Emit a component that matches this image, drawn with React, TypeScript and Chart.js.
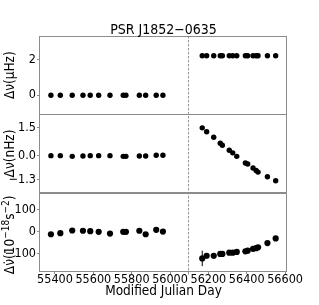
import React, { useEffect, useRef } from "react";
import { Chart, registerables } from "chart.js";

Chart.register(...registerables);

const FONT = "'Liberation Sans Narrow', 'DejaVu Sans Condensed', 'Liberation Sans', sans-serif";

const chartTitle = "PSR J1852\u22120635";
const xTitle = "Modified Julian Day";
const yTitles = ["\u0394\u03BD(\u03BCHz)", "\u0394\u03BD(nHz)"];
// bottom y title as [text, superscript?] parts
const yTitle3: [string, boolean][] = [
  ["\u0394\u03BD\u0307(10", false],
  ["\u221218", true],
  ["s", false],
  ["\u22122", true],
  [")", false],
];

const glitchMJD = 56094;
const xTicks = [55400, 55600, 55800, 56000, 56200, 56400, 56600];

const mjdPre = [55379, 55428, 55490, 55546, 55584, 55628, 55687, 55756, 55770, 55840, 55873, 55928, 55963];
const mjdPost = [56168, 56191, 56228, 56262, 56273, 56309, 56327, 56348, 56393, 56405, 56433, 56449, 56459, 56508, 56551];

// panel 1: delta nu (uHz)
const nuPre = [0, 0, 0, 0, 0, 0, 0, 0, 0, 0, 0, 0, 0];
const nuPost = [2.23, 2.23, 2.23, 2.23, 2.23, 2.23, 2.23, 2.23, 2.23, 2.23, 2.23, 2.23, 2.23, 2.23, 2.23];
const topTicks = [0, 2];

// panel 2: delta nu (nHz)
const nu2Pre = [0, 0, -0.04, -0.02, 0, 0, 0, -0.04, -0.04, -0.02, -0.02, 0.02, 0.02];
const nu2Post = [1.5, 1.29, 0.99, 0.67, 0.56, 0.29, 0.15, -0.04, -0.4, -0.45, -0.67, -0.8, -0.89, -1.14, -1.36];
const midTicks = [1.5, 0.0, -1.3];

// panel 3: delta nu-dot (1e-18 s^-2)
const nudotPre = [-11, -6, 6, 5, 3, 0, -8, 0, 0, 5, -11, 9, 1];
const nudotPreErr = [6, 6, 6, 6, 6, 6, 6, 6, 6, 6, 6, 6, 6];
const nudotPost = [-120, -108, -108, -100, -100, -94, -94, -91, -88, -85, -77, -74, -70, -51, -30];
const nudotPostErr = [35, 12, 12, 6, 6, 6, 6, 6, 6, 6, 6, 6, 6, 6, 6];
const botTicks = [100, 0, -100];

const pts = (xs: number[], ys: number[]) => xs.map((x, i) => ({ x, y: ys[i] }));

export default function App() {
  const ref = useRef<HTMLCanvasElement>(null);
  useEffect(() => {
    document.body.style.margin = "0";
    const ctx = ref.current!.getContext("2d")!;
    const spine = "#8c8c8c";
    const fixTicks = (vals: number[]) => (scale: any) => {
      scale.ticks = vals.map((v) => ({ value: v }));
    };
    const yCommon = (weight: number, min: number, max: number, vals: number[], fmt: (v: number) => string) => ({
      type: "linear",
      position: "left",
      stack: "panels",
      stackWeight: 1,
      weight,
      min,
      max,
      afterBuildTicks: fixTicks(vals),
      afterFit: (s: any) => {
        s.width = 40;
      },
      border: { display: false },
      grid: { drawOnChartArea: false, drawTicks: true, tickLength: 3, color: spine },
      ticks: {
        color: "#000",
        padding: 1,
        font: { family: FONT, size: 12.5 },
        callback: (v: any) => fmt(Number(v)),
      },
      title: { display: false },
    });

    const errPlugin = {
      id: "errs",
      afterDatasetsDraw(chart: any) {
        const c = chart.ctx;
        const xs = chart.scales.x;
        const ys = chart.scales.y3;
        c.save();
        c.strokeStyle = "#000";
        c.lineWidth = 1;
        const draw = (mx: number[], my: number[], me: number[]) => {
          mx.forEach((m, i) => {
            const px = xs.getPixelForValue(m);
            c.beginPath();
            c.moveTo(px, ys.getPixelForValue(my[i] - me[i]));
            c.lineTo(px, ys.getPixelForValue(my[i] + me[i]));
            c.stroke();
          });
        };
        draw(mjdPre, nudotPre, nudotPreErr);
        draw(mjdPost, nudotPost, nudotPostErr);
        c.restore();
      },
    };

    const framePlugin = {
      id: "frame",
      afterDraw(chart: any) {
        const c = chart.ctx;
        const a = chart.chartArea;
        const xs = chart.scales.x;
        c.save();
        // dashed glitch line
        const gx = Math.round(xs.getPixelForValue(glitchMJD)) + 0.5;
        c.strokeStyle = "#999";
        c.setLineDash([2.5, 1.5]);
        c.lineWidth = 1;
        c.beginPath();
        c.moveTo(gx, a.top);
        c.lineTo(gx, a.bottom + 4);
        c.stroke();
        c.setLineDash([]);
        // panel frames
        c.strokeStyle = spine;
        c.lineWidth = 1;
        ["y1", "y2", "y3"].forEach((id) => {
          const s = chart.scales[id];
          c.strokeRect(Math.round(a.left) - 0.5, Math.round(s.top) + 0.5, Math.round(a.right - a.left), Math.round(s.bottom - s.top));
        });
        // x tick labels
        c.fillStyle = "#000";
        c.textAlign = "center";
        c.textBaseline = "alphabetic";
        c.font = `12.5px ${FONT}`;
        xTicks.forEach((t) => {
          c.fillText(String(t), xs.getPixelForValue(t), 283);
        });
        // titles
        c.font = `14px ${FONT}`;
        c.fillText(chartTitle, (a.left + a.right) / 2, 34);
        c.font = `13.5px ${FONT}`;
        c.fillText(xTitle, (a.left + a.right) / 2, 295);
        ["y1", "y2"].forEach((id, i) => {
          const s = chart.scales[id];
          c.save();
          c.translate(14, (s.top + s.bottom) / 2);
          c.rotate(-Math.PI / 2);
          c.font = `13.5px ${FONT}`;
          c.fillText(yTitles[i], 0, 0);
          c.restore();
        });
        // composite bottom title with superscripts
        const s3 = chart.scales.y3;
        const big = `13.5px ${FONT}`;
        const small = `10px ${FONT}`;
        let total = 0;
        yTitle3.forEach(([t, sup]) => {
          c.font = sup ? small : big;
          total += c.measureText(t).width;
        });
        c.save();
        c.translate(14, (s3.top + s3.bottom) / 2 + 3);
        c.rotate(-Math.PI / 2);
        c.textAlign = "left";
        let pos = -total / 2;
        yTitle3.forEach(([t, sup]) => {
          c.font = sup ? small : big;
          c.fillText(t, pos, sup ? -5 : 0);
          pos += c.measureText(t).width;
        });
        c.restore();
        c.restore();
      },
    };

    const ds = (data: any[], yAxisID: string, r: number) => ({
      data,
      yAxisID,
      xAxisID: "x",
      showLine: false,
      pointRadius: r,
      pointBackgroundColor: "#000",
      pointBorderColor: "#000",
      pointBorderWidth: 0,
    });

    const chart = new Chart(ctx, {
      type: "scatter",
      data: {
        datasets: [
          ds(pts(mjdPre, nuPre), "y1", 2.7),
          ds(pts(mjdPost, nuPost), "y1", 2.7),
          ds(pts(mjdPre, nu2Pre), "y2", 2.7),
          ds(pts(mjdPost, nu2Post), "y2", 2.7),
          ds(pts(mjdPre, nudotPre), "y3", 3.1),
          ds(pts(mjdPost, nudotPost), "y3", 3.1),
        ],
      } as any,
      options: {
        animation: false,
        responsive: false,
        events: [],
        layout: { padding: { left: 0, top: 36, right: 32, bottom: 0 } },
        plugins: { legend: { display: false }, tooltip: { enabled: false }, title: { display: false } },
        scales: {
          x: {
            type: "linear",
            position: "bottom",
            min: 55322,
            max: 56610,
            afterBuildTicks: fixTicks(xTicks),
            afterFit: (s: any) => {
              s.height = 34;
            },
            border: { display: false },
            grid: { drawOnChartArea: false, drawTicks: true, tickLength: 3, color: spine },
            ticks: { display: false },
          },
          y1: yCommon(3, -1.08, 3.35, topTicks, (v) => String(v)),
          y2: yCommon(2, -2.0, 2.23, midTicks, (v) => (v < 0 ? "\u2212" : "") + Math.abs(v).toFixed(1)),
          y3: yCommon(1, -177, 177, botTicks, (v) => (v < 0 ? "\u2212" : "") + String(Math.abs(v))),
        } as any,
      },
      plugins: [errPlugin, framePlugin],
    });
    return () => chart.destroy();
  }, []);
  return (
    <div style={{ position: "absolute", left: 0, top: 0, width: 319, height: 305, background: "#fff" }}>
      <canvas ref={ref} width={319} height={305} style={{ width: 319, height: 305, display: "block" }} />
    </div>
  );
}
